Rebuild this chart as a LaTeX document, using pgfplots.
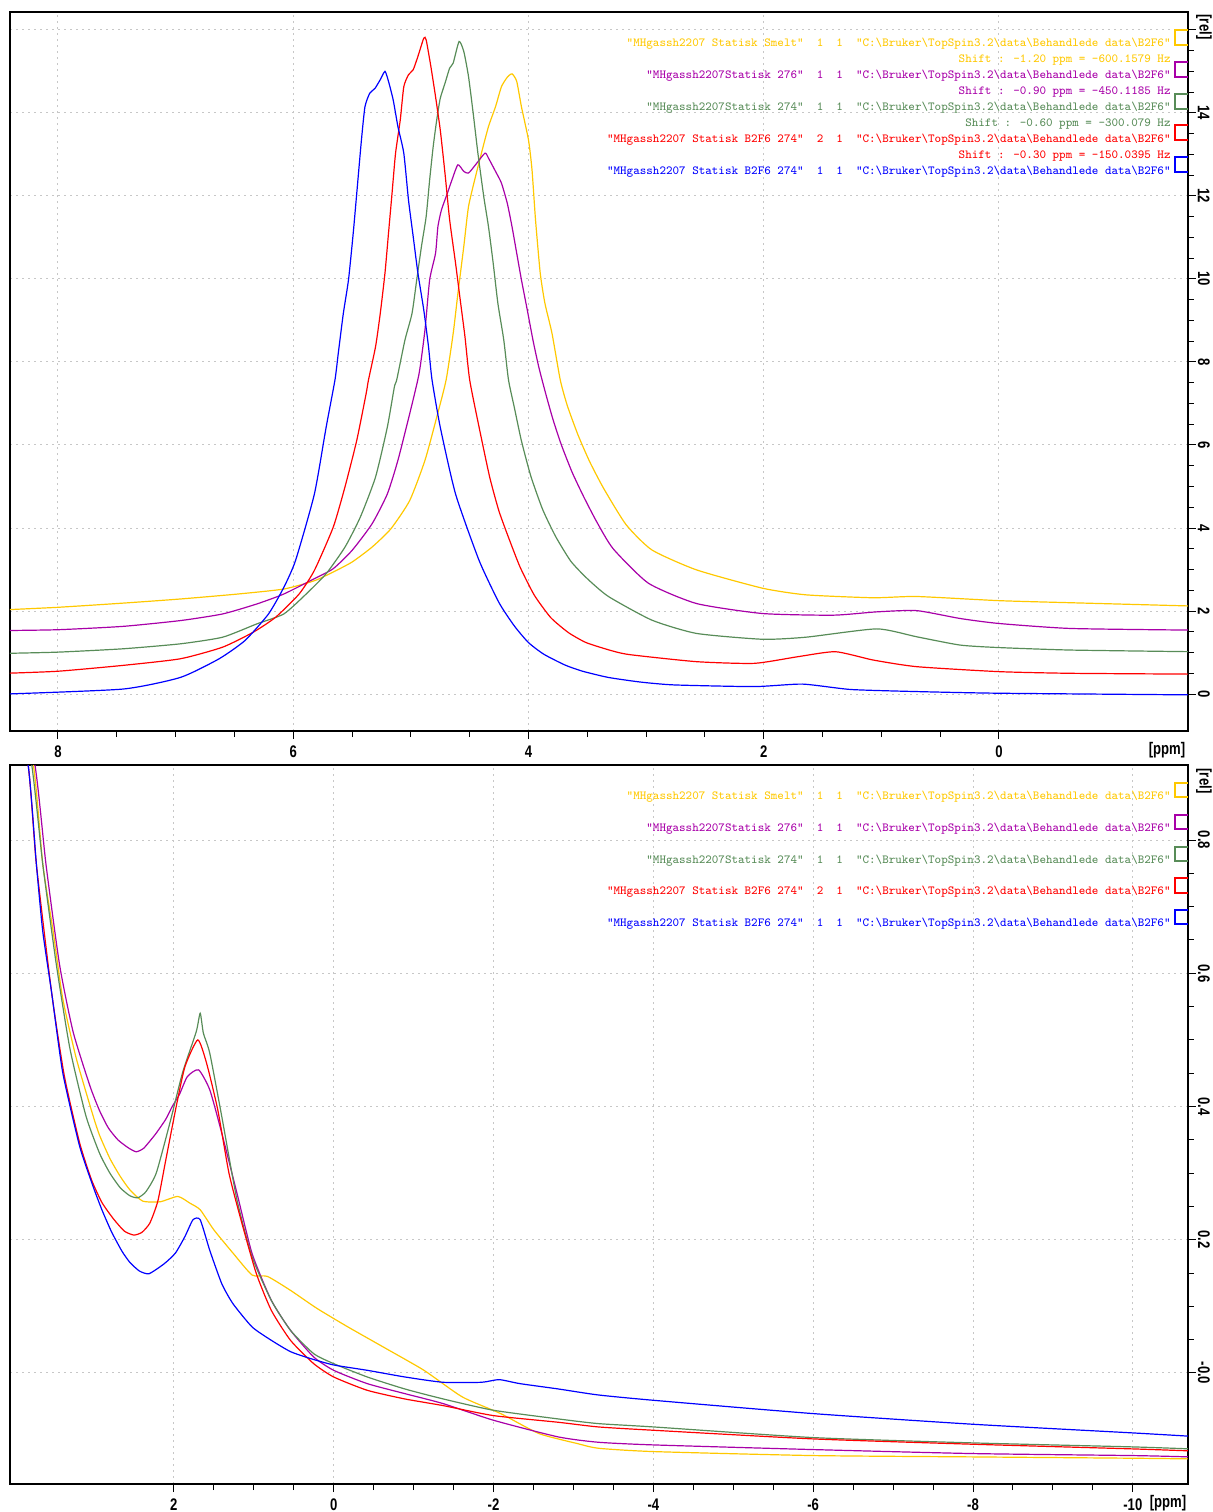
\documentclass[border=0pt]{standalone}
\usepackage{fontspec}
\usepackage{pgfplots}
\pgfplotsset{compat=1.18}

% narrow bold sans for the axis numbers, typewriter for the dataset lines
\newfontfamily\tickfont{Liberation Sans}[FakeStretch=0.78]
\newcommand\tickfnt{\tickfont\bfseries\fontsize{8.4}{9}\selectfont}
\newcommand\legfnt{\ttfamily\fontsize{6.17}{7}\selectfont}
\newcommand\bs{\textbackslash}
\newcommand\twosp{\ \ }
\newcommand\datapath{"C:\bs Bruker\bs TopSpin3.2\bs data\bs Behandlede data\bs B2F6"}
\newcommand\dataset[4]{\color{#1}"#2"\twosp#3\twosp#4\twosp\datapath}

\definecolor{cYel}{RGB}{255,200,0}
\definecolor{cPur}{RGB}{168,0,168}
\definecolor{cGrn}{RGB}{88,140,88}
\definecolor{cRed}{RGB}{255,0,0}
\definecolor{cBlu}{RGB}{0,0,255}

\pgfplotsset{
  nmr/.style={
    scale only axis, width=589pt, height=359.5pt,
    x dir=reverse,
    axis line style={black, line width=0.6pt},
    tick align=outside, xtick pos=lower, ytick pos=right,
    yticklabel pos=right,
    major tick length=4pt, minor tick length=3pt,
    tick style={black, line width=0.5pt},
    minor x tick num=3, minor y tick num=3,
    grid=major,
    major grid style={draw=black!22, line width=0.5pt, dash pattern=on 1pt off 2pt},
    xticklabel style={font=\tickfnt},
    yticklabel style={font=\tickfnt, rotate=-90, anchor=south, inner sep=0.8pt},
    every axis plot/.append style={line width=0.6pt, mark=none, smooth, tension=0.35},
  }
}

\begin{document}
\begin{tikzpicture}
\path[use as bounding box] (0pt,0pt) rectangle (606.5pt,-756pt);

% ---------------- full spectra, stacked with shifts ----------------
\begin{axis}[nmr, at={(5pt,-6pt)}, anchor=north west,
  xmin=-1.607, xmax=8.408, ymin=-0.89, ymax=16.43,
  xtick={0,2,4,6,8}, xticklabels={0,2,4,6,8},
  ytick={0,2,...,16}, yticklabels={0,2,4,6,8,10,12,14,{}},
]
% Smelt, shifted -1.20 ppm
\addplot[cYel] coordinates {
(8.45,2.03)(8.0,2.09)(7.45,2.19)(6.96,2.29)(6.47,2.41)(6.08,2.53)(5.82,2.73)
(5.66,2.94)(5.50,3.18)(5.33,3.54)(5.17,3.98)(5.01,4.66)(4.88,5.63)(4.78,6.67)
(4.70,7.57)(4.64,8.69)(4.60,9.65)(4.55,10.78)(4.51,11.74)(4.45,12.47)(4.40,13.03)
(4.34,13.67)(4.28,14.15)(4.23,14.63)(4.18,14.86)(4.14,14.94)(4.10,14.76)(4.06,14.15)
(4.00,13.35)(3.97,12.63)(3.94,11.42)(3.90,10.14)(3.86,9.41)(3.80,8.69)(3.73,7.57)
(3.67,6.95)(3.58,6.25)(3.48,5.60)(3.36,4.95)(3.17,4.08)(2.95,3.47)(2.57,2.99)
(2.01,2.55)(1.64,2.39)(1.07,2.32)(0.70,2.35)(0.0,2.25)(-0.61,2.20)(-1.65,2.12)};
% 276, shifted -0.90 ppm
\addplot[cPur] coordinates {
(8.45,1.53)(8.0,1.55)(7.45,1.63)(6.96,1.77)(6.60,1.93)(6.31,2.17)(6.08,2.41)
(5.82,2.78)(5.66,3.02)(5.50,3.46)(5.33,4.10)(5.20,4.82)(5.11,5.63)(5.01,6.75)
(4.93,7.72)(4.88,8.77)(4.84,9.98)(4.79,10.62)(4.77,11.26)(4.74,11.66)(4.69,12.06)
(4.65,12.39)(4.60,12.75)(4.55,12.59)(4.51,12.55)(4.45,12.75)(4.37,13.03)(4.34,12.91)
(4.28,12.59)(4.23,12.31)(4.18,11.82)(4.14,11.26)(4.10,10.62)(4.06,9.98)(4.01,9.25)
(3.96,8.50)(3.91,7.85)(3.85,7.20)(3.79,6.60)(3.72,6.00)(3.63,5.35)(3.53,4.75)
(3.42,4.15)(3.28,3.50)(2.98,2.67)(2.57,2.18)(2.01,1.94)(1.41,1.90)(1.04,1.98)
(0.70,2.01)(0.33,1.82)(0.0,1.70)(-0.61,1.58)(-1.65,1.54)};
% 274, shifted -0.60 ppm
\addplot[cGrn] coordinates {
(8.45,0.98)(8.0,1.01)(7.45,1.09)(6.96,1.21)(6.60,1.37)(6.31,1.69)(6.08,1.93)
(5.89,2.41)(5.72,2.90)(5.56,3.54)(5.43,4.26)(5.30,5.23)(5.20,6.43)(5.14,7.40)
(5.12,7.57)(5.05,8.53)(4.99,9.17)(4.95,9.98)(4.91,10.78)(4.87,11.50)(4.84,12.39)
(4.81,13.19)(4.78,13.83)(4.75,14.35)(4.71,14.71)(4.67,15.08)(4.64,15.20)(4.59,15.72)
(4.55,15.48)(4.51,14.88)(4.47,13.99)(4.43,13.03)(4.38,11.98)(4.34,11.26)(4.30,10.38)
(4.26,9.41)(4.21,8.53)(4.17,7.57)(4.12,6.90)(4.06,6.10)(3.98,5.25)(3.88,4.45)
(3.77,3.80)(3.64,3.20)(3.50,2.78)(3.32,2.35)(2.95,1.78)(2.57,1.46)(2.01,1.32)(1.64,1.37)
(1.04,1.57)(0.70,1.38)(0.33,1.18)(0.0,1.12)(-0.61,1.06)(-1.65,1.02)};
% B2F6 274 (2), shifted -0.30 ppm
\addplot[cRed] coordinates {
(8.45,0.50)(8.0,0.55)(7.45,0.69)(6.96,0.85)(6.60,1.13)(6.34,1.49)(6.15,1.85)
(5.95,2.41)(5.82,2.98)(5.66,4.02)(5.56,4.99)(5.46,6.11)(5.38,7.24)(5.36,7.57)
(5.30,8.37)(5.26,9.17)(5.22,10.14)(5.19,11.10)(5.16,12.06)(5.13,13.03)(5.09,13.83)
(5.06,14.63)(5.02,14.92)(4.98,15.04)(4.94,15.36)(4.89,15.80)(4.87,15.76)(4.83,15.12)
(4.79,14.39)(4.75,13.59)(4.71,12.55)(4.67,11.42)(4.62,10.38)(4.58,9.49)(4.54,8.61)
(4.50,7.57)(4.42,6.43)(4.33,5.23)(4.25,4.40)(4.16,3.70)(4.07,3.05)(3.95,2.38)
(3.81,1.84)(3.66,1.48)(3.51,1.24)(3.30,1.05)(3.14,0.95)(2.57,0.78)(2.08,0.74)
(1.71,0.90)(1.39,1.02)(1.07,0.82)(0.70,0.66)(0.0,0.54)(-0.61,0.50)(-1.65,0.48)};
% B2F6 274 (1), unshifted
\addplot[cBlu] coordinates {
(8.45,0.0)(7.45,0.12)(6.96,0.40)(6.63,0.85)(6.41,1.29)(6.21,1.93)(6.08,2.57)
(5.98,3.22)(5.82,4.82)(5.72,6.43)(5.645,7.57)(5.617,8.21)(5.574,9.17)(5.53,9.98)
(5.49,11.10)(5.46,12.06)(5.42,13.35)(5.39,14.15)(5.35,14.47)(5.305,14.59)(5.26,14.80)
(5.22,15.0)(5.19,14.76)(5.15,14.31)(5.11,13.67)(5.06,13.03)(5.02,11.90)(4.98,11.02)
(4.94,10.14)(4.89,9.25)(4.85,8.37)(4.82,7.57)(4.75,6.43)(4.62,4.82)(4.42,3.22)
(4.25,2.20)(4.12,1.64)(4.00,1.24)(3.87,0.96)(3.69,0.70)(3.54,0.55)(3.32,0.40)
(3.05,0.29)(2.76,0.22)(2.08,0.18)(1.67,0.24)(1.26,0.11)(0.70,0.06)(0.0,0.02)(-1.65,-0.02)};
\end{axis}

% ---------------- enlarged baseline region ----------------
\begin{axis}[nmr, at={(5pt,-382.5pt)}, anchor=north west,
  xmin=-10.69, xmax=4.05, ymin=-0.1667, ymax=0.9126,
  xtick={-10,-8,-6,-4,-2,0,2}, xticklabels={-10,-8,-6,-4,-2,0,2},
  ytick={0,0.2,0.4,0.6,0.8}, yticklabels={-0.0,0.2,0.4,0.6,0.8},
]
\addplot[cYel] coordinates {
(4.10,1.12)(3.76,0.915)(3.64,0.764)(3.51,0.663)(3.39,0.562)(3.22,0.472)(3.01,0.386)
(2.93,0.357)(2.80,0.322)(2.67,0.295)(2.55,0.275)(2.39,0.258)(2.17,0.257)
(1.95,0.265)(1.80,0.255)(1.67,0.245)(1.50,0.215)(1.26,0.180)(1.02,0.147)(0.83,0.145)
(0.54,0.124)(0.21,0.097)(-0.18,0.069)(-0.65,0.037)(-1.13,0.004)(-1.61,-0.036)
(-2.09,-0.061)(-2.57,-0.091)(-3.05,-0.106)(-3.31,-0.113)(-4.0,-0.118)(-6.0,-0.124)
(-8.0,-0.126)(-10.0,-0.128)(-10.72,-0.129)};
\addplot[cPur] coordinates {
(4.10,1.15)(3.74,0.915)(3.60,0.764)(3.43,0.613)(3.26,0.512)(3.05,0.431)(2.93,0.394)
(2.82,0.368)(2.70,0.350)(2.57,0.338)(2.47,0.332)(2.38,0.337)(2.30,0.348)(2.22,0.360)
(2.10,0.381)(2.02,0.400)(1.93,0.418)(1.83,0.445)(1.69,0.455)(1.55,0.425)(1.40,0.360)
(1.21,0.270)(1.02,0.179)(0.78,0.109)(0.54,0.064)(0.25,0.024)(0.0,0.004)(-0.42,-0.016)
(-0.89,-0.031)(-1.37,-0.046)(-2.0,-0.071)(-2.81,-0.096)(-3.31,-0.104)(-4.0,-0.108)
(-6.0,-0.115)(-8.0,-0.121)(-10.0,-0.124)(-10.72,-0.126)};
\addplot[cGrn] coordinates {
(4.10,1.15)(3.78,0.915)(3.64,0.764)(3.47,0.613)(3.30,0.487)(3.10,0.386)(2.93,0.330)
(2.80,0.300)(2.67,0.278)(2.55,0.266)(2.45,0.263)(2.35,0.272)(2.22,0.300)(2.05,0.375)
(1.89,0.451)(1.72,0.512)(1.67,0.540)(1.63,0.510)(1.55,0.480)(1.40,0.385)(1.21,0.260)
(1.02,0.174)(0.78,0.109)(0.54,0.064)(0.25,0.029)(0.0,0.014)(-0.42,-0.006)
(-0.89,-0.024)(-1.37,-0.039)(-2.0,-0.056)(-2.81,-0.069)(-3.31,-0.076)(-4.0,-0.081)
(-6.0,-0.097)(-8.0,-0.105)(-10.0,-0.111)(-10.72,-0.114)};
\addplot[cRed] coordinates {
(4.10,1.10)(3.825,0.915)(3.72,0.764)(3.53,0.572)(3.37,0.446)(3.18,0.346)(3.03,0.290)
(2.90,0.256)(2.76,0.232)(2.62,0.213)(2.50,0.207)(2.40,0.211)(2.30,0.225)(2.20,0.258)
(2.10,0.320)(1.97,0.400)(1.86,0.460)(1.70,0.500)(1.59,0.465)(1.45,0.395)(1.31,0.300)(1.16,0.230)
(0.97,0.150)(0.78,0.094)(0.54,0.049)(0.25,0.014)(0.0,-0.006)(-0.42,-0.026)
(-0.89,-0.039)(-1.37,-0.049)(-2.0,-0.064)(-2.81,-0.074)(-3.31,-0.081)(-4.0,-0.086)
(-6.0,-0.099)(-8.0,-0.107)(-10.0,-0.114)(-10.72,-0.117)};
\addplot[cBlu] coordinates {
(4.10,1.10)(3.825,0.915)(3.72,0.764)(3.64,0.663)(3.53,0.572)(3.39,0.451)(3.18,0.341)
(3.01,0.280)(2.90,0.245)(2.78,0.212)(2.65,0.183)(2.55,0.166)(2.43,0.153)(2.31,0.149)
(2.12,0.164)(1.98,0.180)(1.86,0.205)(1.76,0.230)(1.67,0.230)(1.55,0.184)(1.40,0.134)(1.26,0.104)(1.02,0.069)
(0.78,0.049)(0.54,0.032)(0.30,0.022)(0.0,0.012)(-0.42,0.004)(-0.89,-0.006)
(-1.37,-0.014)(-1.85,-0.014)(-2.07,-0.010)(-2.33,-0.016)(-2.81,-0.024)(-3.31,-0.033)
(-4.0,-0.041)(-6.0,-0.061)(-8.0,-0.077)(-10.0,-0.090)(-10.72,-0.095)};
\end{axis}

% dataset captions, unit labels and colour keys (1 unit = 1 px of the page)
\begin{scope}[x=0.5pt, y=-0.5pt]
  \node[font=\tickfnt] at (1167,750) {[ppm]};
  \node[font=\tickfnt] at (1168,1503) {[ppm]};
  \node[font=\tickfnt, rotate=-90] at (1204,27) {[rel]};
  \node[font=\tickfnt, rotate=-90] at (1204,781) {[rel]};

  \begin{scope}[every node/.style={anchor=mid east, inner sep=0pt, font=\legfnt}]
    % upper panel
    \node at (1171,42) {\dataset{cYel}{MHgassh2207 Statisk Smelt}{1}{1}};
    \node at (1171,58) {\color{cYel}Shift : -1.20 ppm = -600.1579 Hz};
    \node at (1171,74) {\dataset{cPur}{MHgassh2207Statisk 276}{1}{1}};
    \node at (1171,90) {\color{cPur}Shift : -0.90 ppm = -450.1185 Hz};
    \node at (1171,106) {\dataset{cGrn}{MHgassh2207Statisk 274}{1}{1}};
    \node at (1171,122) {\color{cGrn}Shift : -0.60 ppm = -300.079 Hz};
    \node at (1171,138) {\dataset{cRed}{MHgassh2207 Statisk B2F6 274}{2}{1}};
    \node at (1171,154) {\color{cRed}Shift : -0.30 ppm = -150.0395 Hz};
    \node at (1171,170) {\dataset{cBlu}{MHgassh2207 Statisk B2F6 274}{1}{1}};
    % lower panel
    \node at (1171,795) {\dataset{cYel}{MHgassh2207 Statisk Smelt}{1}{1}};
    \node at (1171,827) {\dataset{cPur}{MHgassh2207Statisk 276}{1}{1}};
    \node at (1171,859) {\dataset{cGrn}{MHgassh2207Statisk 274}{1}{1}};
    \node at (1171,890) {\dataset{cRed}{MHgassh2207 Statisk B2F6 274}{2}{1}};
    \node at (1171,922) {\dataset{cBlu}{MHgassh2207 Statisk B2F6 274}{1}{1}};
  \end{scope}

  \begin{scope}[line width=0.55pt]
    \draw[cYel] (1188,30)--(1175,30)--(1175,45)--(1188,45);
    \draw[cPur] (1188,62)--(1175,62)--(1175,77)--(1188,77);
    \draw[cGrn] (1188,94)--(1175,94)--(1175,109)--(1188,109);
    \draw[cRed] (1188,125)--(1175,125)--(1175,140)--(1188,140);
    \draw[cBlu] (1188,157)--(1175,157)--(1175,172)--(1188,172);
    \draw[cYel] (1188,783)--(1175,783)--(1175,797)--(1188,797);
    \draw[cPur] (1188,815)--(1175,815)--(1175,829)--(1188,829);
    \draw[cGrn] (1188,847)--(1175,847)--(1175,861)--(1188,861);
    \draw[cRed] (1188,878)--(1175,878)--(1175,893)--(1188,893);
    \draw[cBlu] (1188,910)--(1175,910)--(1175,924)--(1188,924);
  \end{scope}
\end{scope}
\end{tikzpicture}
\end{document}
